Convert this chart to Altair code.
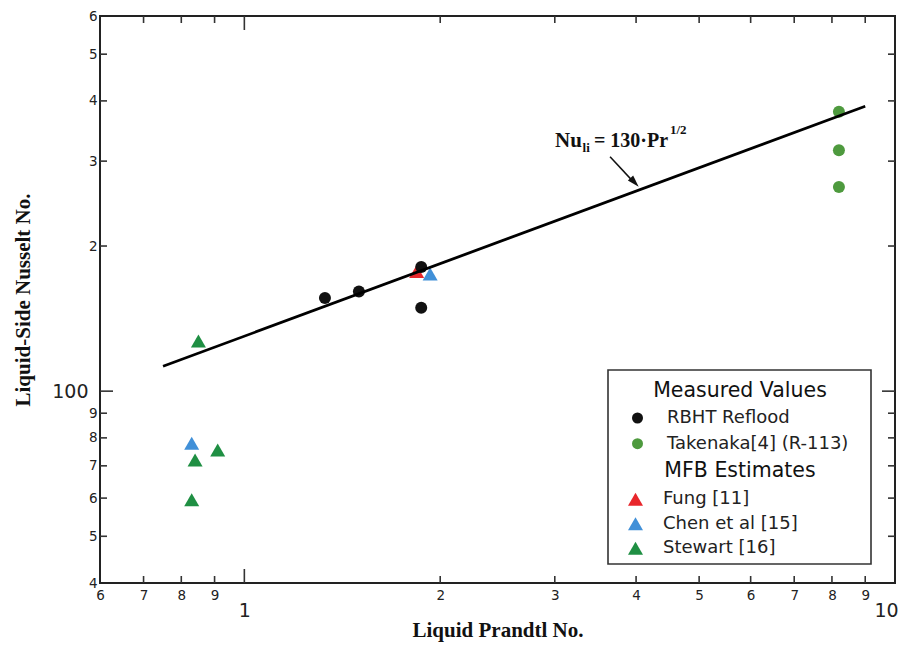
import altair as alt
import pandas as pd

# ---------------- data ----------------
rbht_pr = [1.33, 1.50, 1.87, 1.87]
rbht_nu = [156, 161, 181, 149]
takenaka_pr = [8.2, 8.2, 8.2]
takenaka_nu = [380, 316, 265]
fung_pr = [1.84]
fung_nu = [177]
chen_pr = [1.93, 0.83]
chen_nu = [175, 78]
stewart_pr = [0.85, 0.84, 0.91, 0.83]
stewart_nu = [127, 72, 75.5, 59.5]
corr_pr = [0.75, 9.0]
corr_nu = [112.6, 390]

measured_names = ["RBHT Reflood", "Takenaka[4] (R-113)"]
measured_colors = ["#111111", "#4e9a3e"]
mfb_names = ["Fung [11]", "Chen et al [15]", "Stewart [16]"]
mfb_colors = ["#e8262b", "#4190d8", "#1f8f43"]

x_labels = [0.6, 0.7, 0.8, 0.9, 1, 2, 3, 4, 5, 6, 7, 8, 9, 10]
y_labels = [40, 50, 60, 70, 80, 90, 100, 200, 300, 400, 500, 600]
x_minor = [0.7, 0.8, 0.9, 2, 3, 4, 5, 6, 7, 8, 9]
x_major = [1]
y_minor = [50, 60, 70, 80, 90, 200, 300, 400, 500]
y_major = [100]

W, H = 795, 567
xs = alt.Scale(type="log", domain=[0.6, 10], nice=False)
ys = alt.Scale(type="log", domain=[40, 600], nice=False)

measured = pd.DataFrame({
    "x": rbht_pr + takenaka_pr,
    "y": rbht_nu + takenaka_nu,
    "series": [measured_names[0]] * len(rbht_pr) + [measured_names[1]] * len(takenaka_pr),
})
mfb = pd.DataFrame({
    "x": fung_pr + chen_pr + stewart_pr,
    "y": fung_nu + chen_nu + stewart_nu,
    "series": [mfb_names[0]] * len(fung_pr) + [mfb_names[1]] * len(chen_pr) + [mfb_names[2]] * len(stewart_pr),
})
corr = pd.DataFrame({"x": corr_pr, "y": corr_nu})

big = "datum.value == 1 || datum.value == 10 || datum.value == 100"
x_axis = alt.Axis(
    values=x_labels,
    labelExpr="datum.value < 0.95 ? format(datum.value * 10, '.0f') : format(datum.value, '.0f')",
    labelFontSize={"condition": {"test": big, "value": 19}, "value": 13.5},
    labelPadding={"condition": {"test": big, "value": 18}, "value": 5},
    labelOffset={"condition": {"test": "datum.value == 10", "value": -9}, "value": 0},
    labelFont="DejaVu Sans", labelColor="#222", labelOverlap=False, labelFlush=False,
    ticks=False, domain=False, grid=False,
    title="Liquid Prandtl No.", titleFont="Liberation Serif", titleFontWeight="bold",
    titleFontSize=21, titleColor="#111", titleX=W / 2, titleY=47,
    titleAlign="center", titleBaseline="middle",
)
y_axis = alt.Axis(
    values=y_labels,
    labelExpr="datum.value < 95 ? format(datum.value / 10, '.0f') : (datum.value < 150 ? '100' : format(datum.value / 100, '.0f'))",
    labelFontSize={"condition": {"test": big, "value": 19}, "value": 13.5},
    labelPadding={"condition": {"test": big, "value": 12}, "value": 3},
    labelFont="DejaVu Sans", labelColor="#222", labelOverlap=False, labelFlush=False,
    ticks=False, domain=False, grid=False,
    title="Liquid-Side Nusselt No.", titleFont="Liberation Serif", titleFontWeight="bold",
    titleFontSize=21, titleColor="#111", titleX=-77, titleY=H / 2,
    titleAlign="center", titleBaseline="middle", titleAngle=270,
)

# ticks (inward) drawn through the scales
def xticks(vals, length):
    d = pd.DataFrame({"x": vals})
    base = alt.Chart(d).mark_rule(color="#333", strokeWidth=1.6)
    return [
        base.encode(x=alt.X("x:Q", scale=xs), y=alt.value(H), y2=alt.value(H - length)),
        base.encode(x=alt.X("x:Q", scale=xs), y=alt.value(0), y2=alt.value(length)),
    ]

def yticks(vals, length):
    d = pd.DataFrame({"y": vals})
    base = alt.Chart(d).mark_rule(color="#333", strokeWidth=1.6)
    return [
        base.encode(y=alt.Y("y:Q", scale=ys), x=alt.value(0), x2=alt.value(length)),
        base.encode(y=alt.Y("y:Q", scale=ys), x=alt.value(W), x2=alt.value(W - length)),
    ]

tick_layers = xticks(x_minor, 7) + xticks(x_major, 14) + yticks(y_minor, 7) + yticks(y_major, 13)

# legend box and headers
box = alt.Chart(pd.DataFrame({"a": [0]})).mark_rect(
    fill="white", stroke="#333", strokeWidth=1.6
).encode(x=alt.value(508), x2=alt.value(771), y=alt.value(354), y2=alt.value(548))

def header(txt, ypx):
    return alt.Chart(pd.DataFrame({"t": [txt]})).mark_text(
        font="DejaVu Sans", fontSize=20.5, color="#111", align="center", baseline="middle"
    ).encode(text="t:N", x=alt.value(640), y=alt.value(ypx))

# data layers
mfb_layer = alt.Chart(mfb).mark_point(shape="triangle-up", filled=True, size=225, opacity=1).encode(
    x=alt.X("x:Q", scale=xs, axis=x_axis),
    y=alt.Y("y:Q", scale=ys, axis=y_axis),
    color=alt.Color("series:N", scale=alt.Scale(domain=mfb_names, range=mfb_colors),
                    title=None,
                    legend=alt.Legend(orient="none", legendX=526.5, legendY=474.2,
                                      labelFont="DejaVu Sans", labelFontSize=18, labelColor="#222",
                                      labelLimit=300, symbolSize=225, symbolStrokeWidth=0,
                                      rowPadding=6.5, labelOffset=18.5, padding=0,
                                      symbolOpacity=1)),
)
meas_layer = alt.Chart(measured).mark_point(shape="circle", filled=True, size=144, opacity=1).encode(
    x=alt.X("x:Q", scale=xs),
    y=alt.Y("y:Q", scale=ys),
    color=alt.Color("series:N", scale=alt.Scale(domain=measured_names, range=measured_colors),
                    title=None,
                    legend=alt.Legend(orient="none", legendX=528.5, legendY=393,
                                      labelFont="DejaVu Sans", labelFontSize=18, labelColor="#222",
                                      labelLimit=300, symbolSize=121, symbolStrokeWidth=0,
                                      rowPadding=7.7, labelOffset=20.5, padding=0,
                                      symbolOpacity=1)),
)
line_layer = alt.Chart(corr).mark_line(color="#000", strokeWidth=2.8).encode(
    x=alt.X("x:Q", scale=xs), y=alt.Y("y:Q", scale=ys)
)

# annotation: Nu_li = 130·Pr^(1/2) with arrow
ann = pd.DataFrame({
    "x": [3.003, 3.310, 3.446, 4.510],
    "y": [320.8, 313.3, 320.8, 341.4],
    "t": ["Nu", "li", "= 130·Pr", "1/2"],
    "fs": [21, 13, 20, 13],
})
ann_layer = alt.Chart(ann).mark_text(
    font="Liberation Serif", fontWeight="bold", color="#111", align="left", baseline="alphabetic"
).encode(
    x=alt.X("x:Q", scale=xs), y=alt.Y("y:Q", scale=ys), text="t:N",
    size=alt.Size("fs:Q", scale=None, legend=None),
)
arrow_line = alt.Chart(pd.DataFrame({"x": [3.648, 3.95], "y": [306.4, 273.0]})).mark_line(
    color="#111", strokeWidth=1.5
).encode(x=alt.X("x:Q", scale=xs), y=alt.Y("y:Q", scale=ys))
arrow_head = alt.Chart(pd.DataFrame({"x": [3.979], "y": [271.0]})).mark_point(
    shape="M0,-1L0.6,1L-0.6,1Z", filled=True, size=144, angle=137, color="#111", opacity=1
).encode(x=alt.X("x:Q", scale=xs), y=alt.Y("y:Q", scale=ys))

chart = alt.layer(
    mfb_layer, meas_layer, line_layer, *tick_layers, ann_layer, arrow_line, arrow_head,
    box, header("Measured Values", 375.3), header("MFB Estimates", 455.3),
).resolve_scale(color="independent").properties(
    width=W, height=H,
    padding={"left": 92, "top": 8, "right": 6, "bottom": 62},
    autosize=alt.AutoSizeParams(type="none"),
    background="white",
).configure_view(stroke="#222", strokeWidth=2)

chart.save("out.html", embed_options={"renderer": "svg", "actions": False})
